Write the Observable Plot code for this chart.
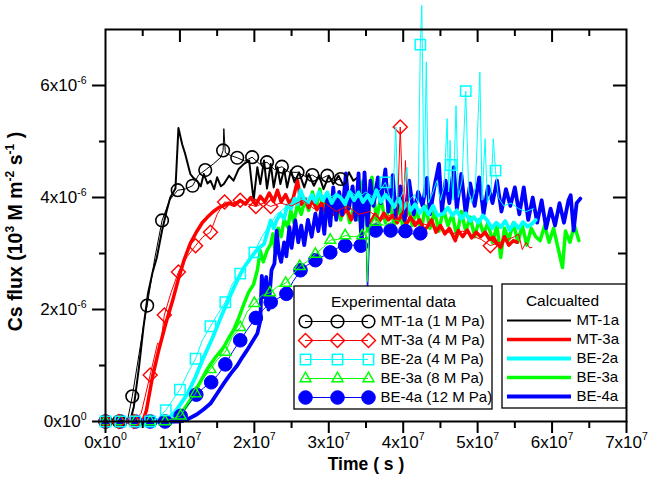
<!DOCTYPE html>
<html><head><meta charset="utf-8">
<script src="https://cdn.jsdelivr.net/npm/d3@7"></script>
<script src="https://cdn.jsdelivr.net/npm/@observablehq/plot@0.6"></script>
<style>html,body{margin:0;padding:0;background:#fff;}</style>
</head><body><div id="chart"></div>
<script>
// ---------- DATA (time in 1e7 s, flux in 1e-6) ----------
const xMajor = [0,1,2,3,4,5,6,7];
const xMinor = [0.5,1.5,2.5,3.5,4.5,5.5,6.5];
const xTickLabels = ["0x10^{0}","1x10^{7}","2x10^{7}","3x10^{7}","4x10^{7}","5x10^{7}","6x10^{7}","7x10^{7}"];
const yMajor = [0,2,4,6];
const yMinor = [1,3,5];
const yTickLabels = ["0x10^{0}","2x10^{-6}","4x10^{-6}","6x10^{-6}"];
const xTitle = "Time ( s )";
const yTitle = "Cs flux (10^{3} M m^{-2} s^{-1} )";

const expLabels = ["MT-1a (1 M Pa)","MT-3a (4 M Pa)","BE-2a (4 M Pa)","BE-3a (8 M Pa)","BE-4a (12 M Pa)"];
const calcLabels = ["MT-1a","MT-3a","BE-2a","BE-3a","BE-4a"];
const expTitle = "Experimental data";
const calcTitle = "Calcualted";
const colors = ["#000000","#ff0000","#00ffff","#00ff00","#0000ff"];

const calcMT1a = [[0,0],[0.33,0],[0.38,0.26],[0.45,0.97],[0.51,1.68],[0.57,2.28],[0.63,2.65],[0.69,2.93],[0.76,3.41],[0.82,3.75],[0.87,4.0],[0.94,4.16],[0.98,5.24],[1.03,4.95],[1.07,4.78],[1.14,4.42],[1.18,4.35],[1.23,4.3],[1.28,4.2],[1.32,4.42],[1.37,4.25],[1.41,4.3],[1.46,4.15],[1.5,4.36],[1.55,4.2],[1.59,4.24],[1.66,4.39],[1.72,4.3],[1.79,4.51],[1.86,4.6],[1.93,4.66],[1.96,4.3],[1.99,3.95],[2.04,4.54],[2.08,4.24],[2.13,4.66],[2.17,4.16],[2.22,4.6],[2.26,4.18],[2.31,4.54],[2.35,4.24],[2.4,4.51],[2.44,4.18],[2.49,4.48],[2.54,4.27],[2.6,4.45],[2.67,4.18],[2.73,4.42],[2.8,4.21],[2.87,4.39],[2.93,4.15],[3.0,4.39],[3.06,4.24],[3.13,4.39],[3.2,4.21],[3.27,4.45],[3.33,4.3],[3.38,4.35]];
const calcMT3a = [[0,0],[0.5,0],[0.55,0.2],[0.63,0.79],[0.72,1.3],[0.81,1.75],[0.9,2.15],[0.98,2.55],[1.06,2.9],[1.14,3.18],[1.22,3.38],[1.3,3.55],[1.37,3.65],[1.45,3.75],[1.52,3.82],[1.59,3.86],[1.66,3.9],[1.73,3.86],[1.81,3.95],[1.88,3.88],[1.95,4.0],[2.02,3.87],[2.08,4.02],[2.14,3.92],[2.2,4.08],[2.26,3.93],[2.31,4.13],[2.36,3.92],[2.42,4.05],[2.47,3.9],[2.52,3.98],[2.58,4.3],[2.63,3.88],[2.68,3.98],[2.73,3.82],[2.78,3.95],[2.84,3.78],[2.9,3.9],[2.95,3.75],[3.0,3.88],[3.06,3.7],[3.12,3.85],[3.18,3.68],[3.24,3.8],[3.3,3.6],[3.36,3.78],[3.43,3.65],[3.5,3.72],[3.56,3.55],[3.62,3.7],[3.68,3.58],[3.74,3.72],[3.8,3.6],[3.86,3.68],[3.92,3.55],[3.98,3.7],[4.04,3.52],[4.1,3.65],[4.16,3.5],[4.22,3.6],[4.28,3.42],[4.32,3.47],[4.38,3.6],[4.44,3.38],[4.5,3.5],[4.56,3.35],[4.62,3.45],[4.7,3.23],[4.74,3.41],[4.8,3.3],[4.86,3.42],[4.92,3.28],[4.98,3.38],[5.04,3.3],[5.1,3.38],[5.16,3.25],[5.21,3.29],[5.26,3.18],[5.31,3.11],[5.36,3.3],[5.42,3.15],[5.48,3.23],[5.53,3.2]];
const calcBE2a = [[0,0],[0.83,0],[0.95,0.2],[1.1,0.49],[1.21,0.8],[1.32,1.15],[1.44,1.5],[1.55,1.86],[1.66,2.2],[1.77,2.52],[1.86,2.75],[1.94,2.9],[1.99,2.99],[2.06,3.1],[2.13,3.17],[2.18,3.4],[2.22,3.59],[2.26,3.45],[2.3,3.6],[2.35,3.71],[2.4,3.62],[2.44,3.86],[2.49,3.8],[2.54,3.98],[2.58,3.88],[2.62,4.13],[2.67,3.95],[2.72,3.9],[2.77,4.05],[2.82,3.92],[2.87,4.1],[2.92,3.95],[2.98,4.09],[3.04,3.9],[3.1,4.05],[3.16,4.0],[3.22,3.88],[3.28,4.1],[3.34,3.95],[3.4,4.09],[3.46,3.92],[3.52,4.04],[3.58,3.9],[3.64,4.13],[3.7,3.92],[3.76,4.05],[3.82,3.95],[3.88,3.83],[3.94,3.98],[4.0,3.8],[4.05,3.9],[4.1,3.77],[4.16,3.88],[4.22,3.72],[4.28,3.83],[4.34,3.7],[4.4,3.85],[4.46,3.68],[4.54,3.71],[4.6,3.82],[4.66,3.68],[4.72,3.77],[4.78,3.62],[4.84,3.72],[4.9,3.58],[4.95,3.65],[5.01,3.55],[5.07,3.68],[5.13,3.59],[5.19,3.45],[5.25,3.55],[5.31,3.47],[5.37,3.58],[5.43,3.42],[5.49,3.55],[5.55,3.45],[5.61,3.56],[5.67,3.48],[5.73,3.53],[5.78,3.6]];
const calcBE3a = [[0,0],[0.92,0],[1.02,0.15],[1.14,0.38],[1.25,0.65],[1.37,0.94],[1.48,1.15],[1.59,1.33],[1.66,1.5],[1.72,1.63],[1.79,1.85],[1.86,2.1],[1.92,2.3],[1.99,2.45],[2.04,2.7],[2.08,3.05],[2.12,2.85],[2.17,3.05],[2.22,3.17],[2.25,3.35],[2.28,3.05],[2.32,3.45],[2.36,3.3],[2.4,3.6],[2.45,3.47],[2.49,3.77],[2.53,3.55],[2.58,3.89],[2.63,3.7],[2.68,3.95],[2.73,3.77],[2.78,4.1],[2.83,3.8],[2.88,4.15],[2.93,3.75],[2.98,4.05],[3.04,3.7],[3.1,4.0],[3.16,3.6],[3.22,3.95],[3.28,3.55],[3.34,3.85],[3.4,3.6],[3.46,4.3],[3.52,3.4],[3.58,4.36],[3.64,3.6],[3.7,4.0],[3.76,3.55],[3.82,3.9],[3.88,3.5],[3.94,3.85],[4.0,3.45],[4.06,3.9],[4.12,3.5],[4.18,3.8],[4.24,3.4],[4.3,3.85],[4.36,3.45],[4.42,3.75],[4.48,3.4],[4.54,3.8],[4.6,3.5],[4.66,3.7],[4.72,3.3],[4.78,3.75],[4.84,3.4],[4.9,3.65],[4.96,3.3],[5.02,3.6],[5.08,3.35],[5.14,3.55],[5.2,3.2],[5.26,3.5],[5.31,2.93],[5.36,3.45],[5.42,3.25],[5.48,3.55],[5.54,3.2],[5.6,3.5],[5.66,3.15],[5.72,3.45],[5.78,3.3],[5.84,3.23],[5.9,3.5],[5.96,3.2],[6.02,3.45],[6.08,3.1],[6.14,2.75],[6.18,3.4],[6.24,3.2],[6.3,3.5],[6.36,3.23]];
const calcBE4a = [[0,0],[1.0,0],[1.12,0.05],[1.23,0.13],[1.32,0.22],[1.41,0.32],[1.5,0.5],[1.59,0.68],[1.68,0.85],[1.77,1.0],[1.84,1.15],[1.9,1.27],[1.97,1.42],[2.04,1.57],[2.08,1.8],[2.1,2.6],[2.13,2.22],[2.16,2.58],[2.19,2.0],[2.23,2.7],[2.27,2.82],[2.3,3.41],[2.33,3.0],[2.36,2.85],[2.4,3.2],[2.43,2.95],[2.47,3.47],[2.5,3.1],[2.55,3.59],[2.59,3.2],[2.63,3.5],[2.67,3.15],[2.72,3.6],[2.77,3.3],[2.82,3.71],[2.86,3.4],[2.9,3.8],[2.94,3.35],[2.98,4.0],[3.02,3.5],[3.06,4.18],[3.1,3.6],[3.14,4.1],[3.18,3.7],[3.23,4.43],[3.27,3.8],[3.32,4.2],[3.36,3.6],[3.4,4.43],[3.44,3.11],[3.48,4.45],[3.52,3.5],[3.56,4.3],[3.6,3.85],[3.66,4.36],[3.7,3.9],[3.76,4.5],[3.8,3.75],[3.86,4.4],[3.9,3.65],[3.96,4.2],[4.02,3.6],[4.08,4.3],[4.14,3.7],[4.2,4.1],[4.26,3.85],[4.32,4.35],[4.36,3.7],[4.42,4.2],[4.48,4.6],[4.52,3.75],[4.57,4.3],[4.62,3.9],[4.68,4.54],[4.72,3.8],[4.78,4.42],[4.84,3.7],[4.9,4.25],[4.96,3.85],[5.02,4.36],[5.08,3.7],[5.14,4.2],[5.2,3.9],[5.26,4.3],[5.32,3.75],[5.38,4.15],[5.44,3.85],[5.5,4.18],[5.56,3.7],[5.62,4.18],[5.68,3.6],[5.74,4.0],[5.8,3.55],[5.86,3.95],[5.92,3.45],[5.98,3.8],[6.04,3.5],[6.1,3.9],[6.16,3.55],[6.22,3.95],[6.25,4.04],[6.29,3.41],[6.33,3.9],[6.38,3.98]];

const expMT1a = [[0,0],[0.18,0],[0.3,0.05],[0.36,0.45],[0.45,1.2],[0.51,1.7],[0.56,2.07],[0.66,2.9],[0.76,3.59],[0.86,3.95],[0.97,4.13],[1.07,4.15],[1.17,4.21],[1.25,4.4],[1.34,4.49],[1.45,4.6],[1.55,4.72],[1.58,4.84],[1.59,5.23],[1.61,4.8],[1.68,4.75],[1.77,4.71],[1.87,4.65],[1.97,4.72],[2.07,4.6],[2.17,4.63],[2.27,4.5],[2.37,4.55],[2.47,4.45],[2.58,4.45],[2.68,4.38],[2.78,4.4],[2.88,4.32],[2.98,4.39],[3.07,4.3],[3.16,4.33]];
const expMT1aMarks = [0,0.18,0.36,0.56,0.76,0.97,1.17,1.34,1.58,1.77,1.97,2.17,2.37,2.58,2.78,2.98,3.16];
const expMT3a = [[0,0],[0.18,0],[0.38,0],[0.48,0.15],[0.6,0.83],[0.7,1.4],[0.74,1.35],[0.79,1.9],[0.88,2.3],[0.98,2.67],[1.1,2.95],[1.21,3.14],[1.31,3.3],[1.41,3.38],[1.5,3.7],[1.6,3.92],[1.7,3.9],[1.81,3.95],[1.92,3.88],[2.02,3.84],[2.12,3.9],[2.22,3.84],[2.35,3.9],[2.5,3.85],[2.65,3.95],[2.8,3.8],[2.95,3.9],[3.1,3.75],[3.25,3.85],[3.4,3.7],[3.55,3.75],[3.7,3.6],[3.85,3.7],[3.92,3.6],[3.96,5.26],[4.0,3.7],[4.03,4.66],[4.06,3.65],[4.2,3.55],[4.35,3.5],[4.5,3.45],[4.65,3.35],[4.8,3.4],[4.95,3.3],[5.05,3.25],[5.17,3.14],[5.3,3.2],[5.4,3.25],[5.5,3.3],[5.55,3.35],[5.6,3.07],[5.65,3.2],[5.7,3.1],[5.73,3.11]];
const expMT3aMarks = [0,0.18,0.38,0.6,0.79,0.98,1.21,1.41,1.6,1.81,2.02,2.22,3.96,5.17];
const expBE2a = [[0,0],[0.2,0],[0.4,0],[0.6,0],[0.7,0.05],[0.81,0.2],[0.9,0.38],[1.0,0.57],[1.1,0.85],[1.21,1.12],[1.3,1.45],[1.41,1.7],[1.5,1.9],[1.61,2.13],[1.7,2.45],[1.81,2.64],[1.9,2.85],[2.0,3.02],[2.1,3.3],[2.2,3.5],[2.3,3.7],[2.4,3.8],[2.5,3.9],[2.6,3.95],[2.7,4.0],[2.8,3.95],[2.9,4.05],[3.0,4.0],[3.1,4.05],[3.2,3.95],[3.3,4.1],[3.4,4.0],[3.5,4.1],[3.6,4.0],[3.7,4.15],[3.76,4.27],[3.82,4.0],[3.86,3.9],[3.9,5.26],[3.93,3.9],[4.0,4.1],[4.05,4.54],[4.08,3.95],[4.15,4.05],[4.2,3.9],[4.23,6.73],[4.25,7.43],[4.28,4.0],[4.31,6.42],[4.34,3.9],[4.4,4.1],[4.45,4.3],[4.5,3.95],[4.55,4.2],[4.59,5.41],[4.61,4.1],[4.63,5.02],[4.64,4.58],[4.67,3.95],[4.71,5.64],[4.74,4.0],[4.79,4.3],[4.84,5.9],[4.88,4.1],[4.92,3.9],[4.97,4.2],[5.03,6.24],[5.06,3.95],[5.1,5.05],[5.13,3.9],[5.18,4.1],[5.21,5.05],[5.24,4.48],[5.28,4.0],[5.35,3.85],[5.45,3.9],[5.55,3.8],[5.65,3.75],[5.75,3.8]];
const expBE2aMarks = [0,0.2,0.4,0.6,0.81,1.0,1.21,1.41,1.61,1.81,2.0,3.76,4.23,4.64,4.84,5.24];
const expBE3a = [[0,0],[0.2,0],[0.4,0],[0.6,0],[0.8,0],[1.01,0.1],[1.1,0.3],[1.21,0.5],[1.3,0.75],[1.41,0.93],[1.5,1.1],[1.61,1.24],[1.7,1.5],[1.81,1.68],[1.9,1.95],[2.0,2.11],[2.1,2.25],[2.21,2.3],[2.3,2.4],[2.42,2.47],[2.5,2.6],[2.61,2.77],[2.7,2.85],[2.82,2.99],[2.92,3.1],[3.02,3.24],[3.12,3.25],[3.22,3.32],[3.33,3.3],[3.45,3.32],[3.5,3.4],[3.52,2.5],[3.54,3.45],[3.63,3.56],[3.75,3.5],[3.9,3.6],[4.0,3.55]];
const expBE3aMarks = [0,0.2,0.4,0.6,0.8,1.01,1.21,1.41,1.61,1.81,2.0,2.21,2.42,2.61,2.82,3.02,3.22,3.45,3.63];
const expBE4a = [[0,0],[0.2,0],[0.4,0],[0.6,0],[0.8,0],[1.01,0.1],[1.1,0.28],[1.22,0.48],[1.32,0.6],[1.42,0.7],[1.52,0.85],[1.61,1.02],[1.71,1.25],[1.81,1.45],[1.91,1.65],[2.02,1.85],[2.12,2.0],[2.22,2.13],[2.32,2.2],[2.43,2.28],[2.52,2.5],[2.62,2.7],[2.72,2.8],[2.82,2.88],[2.92,2.95],[3.02,3.02],[3.12,3.1],[3.22,3.14],[3.32,3.15],[3.43,3.14],[3.5,3.3],[3.52,2.25],[3.55,3.35],[3.63,3.41],[3.73,3.4],[3.83,3.41],[3.93,3.38],[4.03,3.4],[4.13,3.35],[4.23,3.36]];
const expBE4aMarks = [0,0.2,0.4,0.6,0.8,1.01,1.22,1.42,1.61,1.81,2.02,2.22,2.43,2.62,2.82,3.02,3.22,3.43,3.63,3.83,4.03,4.23];

// ---------- LAYOUT ----------
const W = 649, H = 486, mL = 105, mR = 23, mT = 29, mB = 65;
const plotW = W - mL - mR, plotH = H - mT - mB;
const xMax = 7, yMax = 7;
const FONT = "'Liberation Sans', Arial, sans-serif";
// legend layout (pixels) converted to data units
const fx = px => (px - mL) / plotW * xMax;
const fy = py => (mT + plotH - py) / plotH * yMax;
const expBox = {x1: 294, x2: 492, y1: 286, y2: 409, title: 302, rows: [321,340,359,378,397], lineX: [305,368], dotX: [305,337,368], textX: 380};
const calcBox = {x1: 502, x2: 626, y1: 284, y2: 408, title: 301, rows: [320,339,358,377,396], lineX: [507,571], textX: 576};

const rows = a => a.map(([t, v]) => ({t, v}));
const markRows = (a, m) => rows(a.filter(([t]) => m.includes(t)));

const dotStyle = [
  {symbol: "circle", r: 6.3, fill: "none", stroke: colors[0], strokeWidth: 1.6},
  {symbol: "diamond2", r: 6.3, fill: "none", stroke: colors[1], strokeWidth: 1.4},
  {symbol: "square2", r: 6.6, fill: "none", stroke: colors[2], strokeWidth: 1.5},
  {symbol: "triangle2", r: 5.2, fill: "none", stroke: colors[3], strokeWidth: 1.5},
  {symbol: "circle", r: 6.8, fill: colors[4], stroke: colors[4], strokeWidth: 1}
];
const calcWidth = [2, 3.5, 3.8, 3.5, 3.8];
const calcSeries = [calcMT1a, calcMT3a, calcBE2a, calcBE3a, calcBE4a];
const expSeries = [expMT1a, expMT3a, expBE2a, expBE3a, expBE4a];
const expMarks = [expMT1aMarks, expMT3aMarks, expBE2aMarks, expBE3aMarks, expBE4aMarks];

const marks = [];
// calculated thick lines (draw order: black, green, red, blue, cyan)
for (const i of [0, 3, 1, 4, 2]) {
  marks.push(Plot.line(rows(calcSeries[i]), {x: "t", y: "v", stroke: colors[i], strokeWidth: calcWidth[i], strokeLinejoin: "round"}));
}
// experimental thin lines + markers (draw order: blue, green, black, red, cyan)
for (const i of [4, 3, 0, 1, 2]) {
  marks.push(Plot.line(rows(expSeries[i]), {x: "t", y: "v", stroke: colors[i], strokeWidth: 1}));
  marks.push(Plot.dot(markRows(expSeries[i], expMarks[i]), {x: "t", y: "v", ...dotStyle[i]}));
}

// frame + ticks
marks.push(Plot.frame({stroke: "black", strokeWidth: 2}));
marks.push(Plot.tickX(xMajor, {x: d => d, insetTop: plotH, insetBottom: -12, strokeWidth: 2}));
marks.push(Plot.tickX(xMinor, {x: d => d, insetTop: plotH, insetBottom: -7, strokeWidth: 2}));
marks.push(Plot.tickX(xMajor.slice(1, -1), {x: d => d, insetBottom: plotH - 13, strokeWidth: 2}));
marks.push(Plot.tickX(xMinor, {x: d => d, insetBottom: plotH - 7, strokeWidth: 2}));
marks.push(Plot.tickY(yMajor, {y: d => d, insetLeft: -13, insetRight: plotW, strokeWidth: 2}));
marks.push(Plot.tickY(yMinor, {y: d => d, insetLeft: -6, insetRight: plotW, strokeWidth: 2}));
marks.push(Plot.tickY(yMajor.slice(1), {y: d => d, insetLeft: plotW - 13, strokeWidth: 2}));
marks.push(Plot.tickY(yMinor, {y: d => d, insetLeft: plotW - 8, strokeWidth: 2}));

// tick labels and axis titles
marks.push(Plot.text(xMajor, {x: d => d, frameAnchor: "bottom", dy: 26, text: d => xTickLabels[xMajor.indexOf(d)], fontSize: 17}));
marks.push(Plot.text(yMajor, {y: d => d, frameAnchor: "left", dx: -19, textAnchor: "end", text: d => yTickLabels[yMajor.indexOf(d)], fontSize: 17}));
marks.push(Plot.text([xTitle], {frameAnchor: "bottom", dy: 48, fontSize: 17.5, fontWeight: "bold"}));
marks.push(Plot.text([yTitle], {frameAnchor: "left", textAnchor: "middle", dx: -90, dy: 6, rotate: -90, fontSize: 19.5, fontWeight: "bold"}));

// legends
for (const [box, labels, title, exp] of [[expBox, expLabels, expTitle, true], [calcBox, calcLabels, calcTitle, false]]) {
  marks.push(Plot.rect([box], {x1: d => fx(d.x1), x2: d => fx(d.x2), y1: d => fy(d.y2), y2: d => fy(d.y1), fill: "white", stroke: "black", strokeWidth: 1.3}));
  marks.push(Plot.text([title], {x: () => fx((box.x1 + box.x2) / 2 + (exp ? 0 : -2)), y: () => fy(box.title), fontSize: 15.5}));
  marks.push(Plot.ruleY(labels, {y: (d, i) => fy(box.rows[i]), x1: () => fx(box.lineX[0]), x2: () => fx(box.lineX[1]), stroke: (d, i) => colors[i], strokeWidth: (d, i) => exp ? 1 : calcWidth[i]}));
  marks.push(Plot.text(labels, {x: () => fx(box.textX), y: (d, i) => fy(box.rows[i]), textAnchor: "start", fontSize: 15}));
  if (exp) {
    labels.forEach((lab, i) => {
      marks.push(Plot.dot(box.dotX.map(px => ({t: fx(px), v: fy(box.rows[i])})), {x: "t", y: "v", ...dotStyle[i]}));
    });
  }
}

const svg = Plot.plot({
  width: W, height: H,
  marginLeft: mL, marginRight: mR, marginTop: mT, marginBottom: mB,
  x: {domain: [0, xMax], axis: null},
  y: {domain: [0, yMax], axis: null},
  style: {fontFamily: FONT, fontSize: "17px", background: "white", color: "black", overflow: "visible"},
  marks
});
document.getElementById("chart").appendChild(svg);

// render "^{...}" as real superscript tspans
for (const t of svg.querySelectorAll("text")) {
  const s = t.textContent;
  if (!s.includes("^{")) continue;
  const fs = parseFloat(getComputedStyle(t).fontSize);
  const supFs = fs * 0.62, rise = fs * 0.42;
  while (t.firstChild) t.removeChild(t.firstChild);
  const re = /\^\{([^}]*)\}/g;
  let last = 0, m, raised = false;
  const add = (str, sup) => {
    if (!str) return;
    const sp = document.createElementNS("http://www.w3.org/2000/svg", "tspan");
    if (sup) { sp.setAttribute("font-size", supFs); sp.setAttribute("dy", -rise); raised = true; }
    else if (raised) { sp.setAttribute("dy", rise); raised = false; }
    sp.textContent = str;
    t.appendChild(sp);
  };
  while ((m = re.exec(s))) { add(s.slice(last, m.index), false); add(m[1], true); last = re.lastIndex; }
  add(s.slice(last), false);
}
</script></body></html>
